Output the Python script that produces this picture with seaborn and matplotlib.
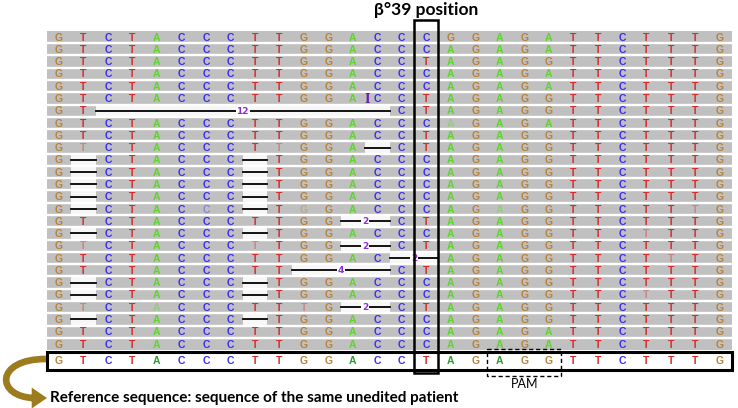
"""
Read alignment at the beta-39 locus (IGV-style view) redrawn with seaborn
"""

import numpy as np
import pandas as pd
import matplotlib
matplotlib.use("Agg")
import matplotlib.pyplot as plt
from matplotlib.colors import ListedColormap
from matplotlib.patches import Rectangle, FancyArrowPatch, PathPatch
from matplotlib.path import Path
import seaborn as sns

# ---- data -------------------------------------------------------------
reference = "GTCTACCCTTGGACCTAGAGGTTCTTTG"

# '-' = deleted base, lowercase = low quality (faded) base
reads = [
    "GTCTACCCTTGGACCCGGAGATTCTTTG",
    "GTCTACCCTTGGACCCAGAGATTCTTTG",
    "GTCTACCCTTGGACCTAGAGGTTCTTTG",
    "GTCTACCCTTGGACCCAGAGATTCTTTG",
    "GTCTACCCTTGGACCCAGAGATTCTTTG",
    "GTCTACCCTTGGACCTAGAGGTTCTTTG",
    "GT------------CTAGAGGTTCTTTG",
    "GTCTACCCTTGGACCCaGAGATTCTTTG",
    "GTCTACCCTTGGACCTAGAGGTTCTTTG",
    "GtCTACCCTtGGA-CTAGAGGTTCTTTG",
    "G-CTACCC-TGGACCCAGAGGTTCTTTG",
    "G-CTACCC-TGGACCCAGAGGTTCTTTG",
    "G-CTACCC-TGGACCCAGAGGTTCTTTG",
    "G-CTACCC-TGGACCCAGAGGTTCTTTG",
    "G-CTACcC-TgGACCCAGaGGTTCTTtG",
    "GTCTACCCTTGG--CTAGAGGTTCTTTG",
    "G-CTACCC-TGGACCCAGAGGTTCtTTG",
    "GtCTACCCtTGG--CTAGAGGTTCTTTG",
    "GTCTACCCTTGGAC--AGAGGTTCTtTG",
    "GTCTACCCTT----CTAGAGGTTCTTTG",
    "G-CTACCC-TGGACCCAGAGGTTCTTTG",
    "G-CTACCC-TGGACCCAGAGGTTCtTTG",
    "GtCTaCCCTTtG--CTAGAGGTTCTTTG",
    "G-CTACCC-TGGACCCAGAGGTTCTTTG",
    "GTCTACCCTTGGACCCAGAGATTCTTTG",
    "GTCTACCCTTGGACCCAGAGATTCTTTG",
]

insertions = [(5, 13)]          # (read row, column boundary)
target_col = 15                 # beta 39 position
pam_cols = (18, 21)             # AGG
title = "β°39 position"
ref_label = "Reference sequence: sequence of the same unedited patient"

base_colors = {"A": "#5cd62a", "C": "#3a2ef0", "G": "#b8823a", "T": "#d42b2b"}
ref_A = "#2f9a2f"

# ---- layout helpers (pixel -> data units) -----------------------------
W, H = 738, 408
col_w, x0 = 24.48, 46.8
row_h, y0 = 12.28, 30.86


def px_x(p):
    return (p - x0) / col_w


def px_y(p):
    return (p - y0) / row_h


n_rows, n_cols = len(reads), len(reference)
mask = pd.DataFrame([[0 if ch == "-" else 1 for ch in r] for r in reads])

fig = plt.figure(figsize=(W / 100, H / 100), dpi=100)
ax = fig.add_axes([0, 0, 1, 1])

sns.heatmap(mask, cmap=ListedColormap(["#f7f7f7", "#c0c0c0"]), vmin=0, vmax=1,
            cbar=False, xticklabels=False, yticklabels=False, ax=ax)
ax.set_xlim(px_x(0), px_x(W))
ax.set_ylim(px_y(H), px_y(0))
ax.axis("off")

# white gaps between reads
ax.hlines(np.arange(1, n_rows), 0, n_cols, color="white", lw=1.7, zorder=2)

# bases
for i, r in enumerate(reads):
    for c, ch in enumerate(r):
        if ch == "-":
            continue
        ax.text(c + 0.5, i + 0.55, ch.upper(), color=base_colors[ch.upper()],
                alpha=0.4 if ch.islower() else 1.0, ha="center", va="center",
                fontsize=7.5, fontweight="bold", family="Liberation Sans", zorder=3)

    # deletions
    c = 0
    while c < n_cols:
        if r[c] == "-":
            s = c
            while c < n_cols and r[c] == "-":
                c += 1
            ax.plot([s, c], [i + 0.5, i + 0.5], color="black", lw=1.3, zorder=3)
            if c - s > 1:
                ax.text((s + c) / 2, i + 0.55, str(c - s), color="#8a30d8",
                        ha="center", va="center", fontsize=6.5, fontweight="bold",
                        bbox=dict(facecolor="white", edgecolor="none", pad=0.6),
                        zorder=4)
        else:
            c += 1

for row, pos in insertions:
    ax.text(pos + 0.08, row + 0.55, "I", color="#6a1fb0", ha="center", va="center",
            fontsize=8.5, fontweight="bold", family="DejaVu Serif", zorder=4)

# reference row
ref_y = px_y(360)
ax.add_patch(Rectangle((0, px_y(352)), n_cols, px_y(370) - px_y(352),
                       facecolor="white", edgecolor="black", lw=2.2, zorder=2))
for c, ch in enumerate(reference):
    ax.text(c + 0.5, ref_y + 0.05, ch, color=ref_A if ch == "A" else base_colors[ch],
            ha="center", va="center", fontsize=7.5, fontweight="bold",
            family="Liberation Sans", zorder=3)

# beta 39 box and title
ax.add_patch(Rectangle((target_col, px_y(20)), 1, px_y(373) - px_y(20),
                       fill=False, edgecolor="black", lw=1.8, zorder=5))
ax.text(target_col + 0.5, px_y(10), title, ha="center", va="center",
        fontsize=12.5, fontweight="bold", family=["Lato", "DejaVu Sans"])

# PAM box
ax.add_patch(Rectangle((pam_cols[0], px_y(349)), pam_cols[1] - pam_cols[0],
                       px_y(376) - px_y(349), fill=False, edgecolor="black",
                       lw=1.0, ls=(0, (3, 2)), zorder=5))
ax.text((pam_cols[0] + pam_cols[1]) / 2, px_y(384), "PAM", ha="center", va="center",
        fontsize=9, family=["Lato", "DejaVu Sans"])

# curved arrow to the label: bent tail + straight head
arrow_col = "#9c7c1c"
tail = Path([(px_x(46), px_y(359)), (px_x(-6), px_y(359)),
             (px_x(-4), px_y(397)), (px_x(34), px_y(398))],
            [Path.MOVETO, Path.CURVE4, Path.CURVE4, Path.CURVE4])
ax.add_patch(PathPatch(tail, facecolor="none", edgecolor=arrow_col, lw=4.8,
                       capstyle="butt", zorder=5))
ax.add_patch(FancyArrowPatch((px_x(31), px_y(398)), (px_x(47), px_y(398)),
                             arrowstyle="simple,head_length=11,head_width=15,tail_width=4.8",
                             color=arrow_col, lw=0, shrinkA=0, shrinkB=0, zorder=5))
ax.text(px_x(50), px_y(398), ref_label, ha="left", va="center",
        fontsize=11, fontweight="bold", family=["Lato", "DejaVu Sans"])

fig.savefig("out.png", dpi=100)
